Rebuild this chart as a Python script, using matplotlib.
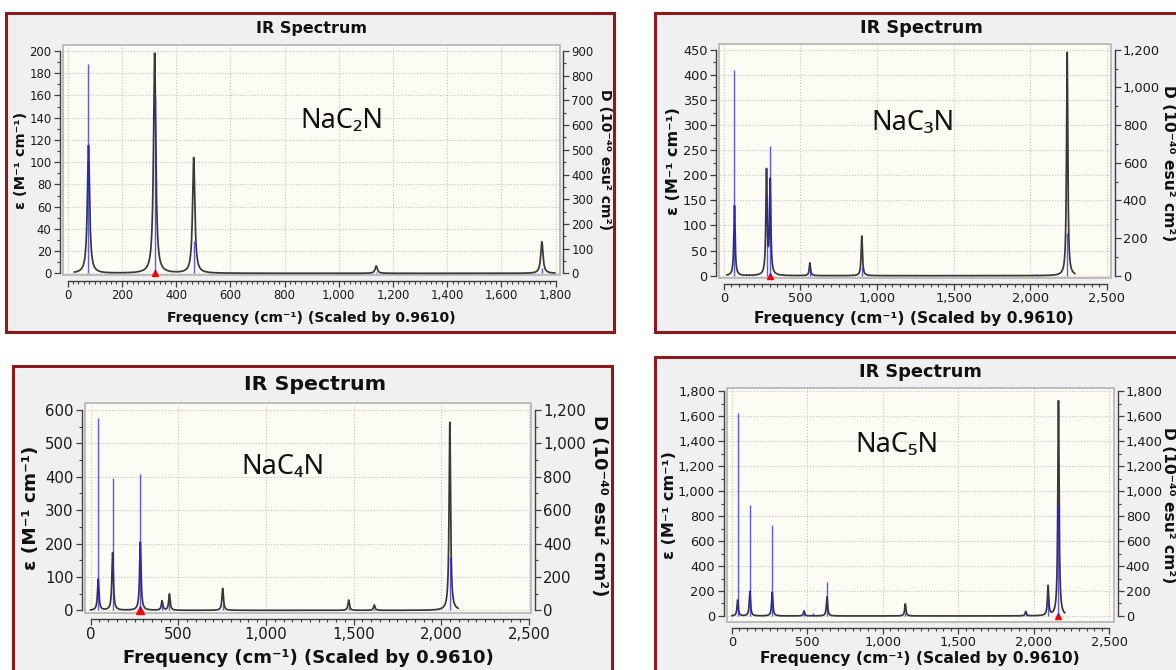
import numpy as np
import matplotlib.pyplot as plt
from matplotlib.patches import Rectangle
from matplotlib.ticker import MultipleLocator, FuncFormatter

W, H = 1176, 670

# modes: frequency (cm-1), epsilon peak height, dipole strength D
nac2n_freq = [77, 321, 465, 1138, 1749]
nac2n_eps = [115, 198, 104, 6.6, 28.4]
nac2n_dip = [846, 708, 130, 7, 20]
nac2n_span = [25, 1797]
nac2n_mark = 321

nac3n_freq = [70, 279, 303, 562, 901, 2042, 2241]
nac3n_eps = [139.6, 206, 186, 25.3, 79, 0.5, 445]
nac3n_dip = [1094, 420, 690, 30, 48, 5, 229]
nac3n_span = [21, 2291]
nac3n_mark = 305

nac4n_freq = [43, 125, 283, 407, 449, 753, 1472, 1618, 2049]
nac4n_eps = [93, 172, 204, 28, 48.6, 65.7, 30.7, 15.8, 563]
nac4n_dip = [1152, 790, 814, 32, 56, 36, 20, 10, 320]
nac4n_span = [0, 2097]
nac4n_mark = 283

nac5n_freq = [38, 119, 267, 478, 534, 630, 1149, 1947, 2095, 2164]
nac5n_eps = [127, 196, 191, 40, 3, 153, 97, 35, 237, 1724]
nac5n_dip = [1630, 889, 727, 30, 20, 275, 25, 20, 130, 880]
nac5n_span = [0, 2206]
nac5n_mark = 2164

HWHM = 5.0  # lorentzian half width

panels = [
    dict(note='NaC₂N', freq=nac2n_freq, eps=nac2n_eps, dip=nac2n_dip, span=nac2n_span, mark=nac2n_mark,
         frame=(6, 13, 614, 332), plot=(63, 45, 559.5, 275),
         xlim=(-17, 1814), xmax=1800, xstep=200,
         ylim=(-1.5, 205.4), ymax=200, ystep=20, ratio=4.5, rmax=900, rstep=100,
         title=(311, 28), xlab=(311, 318), ylab=(21, 160), rlab=(605, 160), notepos=(342, 121), s=1.0),
    dict(note='NaC₃N', freq=nac3n_freq, eps=nac3n_eps, dip=nac3n_dip, span=nac3n_span, mark=nac3n_mark,
         frame=(655, 13, 1185, 332), plot=(719, 44.3, 1111, 278),
         xlim=(-31, 2527), xmax=2500, xstep=500,
         ylim=(-4.6, 461), ymax=450, ystep=50, ratio=1200 / 450, rmax=1200, rstep=200,
         title=(921, 28), xlab=(914, 319), ylab=(673, 161), rlab=(1168, 163), notepos=(913, 123), s=1.11),
    dict(note='NaC₄N', freq=nac4n_freq, eps=nac4n_eps, dip=nac4n_dip, span=nac4n_span, mark=nac4n_mark,
         frame=(13, 366, 612, 680), plot=(84.8, 403.3, 531, 613),
         xlim=(-33.7, 2512), xmax=2500, xstep=500,
         ylim=(-8, 620), ymax=600, ystep=100, ratio=2.0, rmax=1200, rstep=200,
         title=(315, 385), xlab=(308, 658), ylab=(31, 508), rlab=(599, 506), notepos=(283, 467), s=1.28),
    dict(note='NaC₅N', freq=nac5n_freq, eps=nac5n_eps, dip=nac5n_dip, span=nac5n_span, mark=nac5n_mark,
         frame=(655, 357, 1185, 680), plot=(726.5, 387.7, 1114, 621.7),
         xlim=(-36, 2532), xmax=2500, xstep=500,
         ylim=(-46, 1829), ymax=1800, ystep=200, ratio=1.0, rmax=1800, rstep=200,
         title=(920, 372), xlab=(920, 659), ylab=(670, 505), rlab=(1169, 505), notepos=(897, 445), s=1.11),
]


def fx(x):
    return x / W


def fy(y):
    return 1 - y / H


fig = plt.figure(figsize=(W / 100, H / 100), dpi=100)
fig.patch.set_facecolor('white')
thousands = FuncFormatter(lambda v, p: f'{v:,.0f}')
px = 0.72  # points per pixel

for p in panels:
    s = p['s']
    l, t, r, b = p['frame']
    fig.patches.append(Rectangle((fx(l), fy(b)), (r - l) / W, (b - t) / H, transform=fig.transFigure,
                                 facecolor='#f0f0f0', edgecolor='#8b1a1a', lw=2.2, zorder=-10))

    l, t, r, b = p['plot']
    ax = fig.add_axes([fx(l), fy(b), (r - l) / W, (b - t) / H])
    ax.set_facecolor('#fcfcf4')
    ax.set_xlim(*p['xlim'])
    ax.set_ylim(*p['ylim'])

    # broadened spectrum
    f = np.array(p['freq'], float)
    e = np.array(p['eps'], float)
    x = np.union1d(np.arange(p['span'][0], p['span'][1], 0.5), f)
    y = np.zeros_like(x)
    for fi, ei in zip(f, e):
        y += ei / (1 + ((x - fi) / HWHM) ** 2)
    ax.plot(x, y, color='#383838', lw=1.25, zorder=3)

    ax2 = ax.twinx()
    ax2.set_ylim(p['ylim'][0] * p['ratio'], p['ylim'][1] * p['ratio'])
    ax2.vlines(p['freq'], 0, p['dip'], color='#2020ff', lw=1.0, alpha=0.75, zorder=4)

    # axes styling
    for sp in ['top', 'right']:
        ax.spines[sp].set_visible(False)
    for sp in ['top', 'left', 'bottom']:
        ax2.spines[sp].set_visible(False)
    ax.spines['left'].set_position(('outward', 3 * px))
    ax.spines['left'].set_bounds(0, p['ymax'])
    ax.spines['bottom'].set_position(('outward', 6 * px))
    ax.spines['bottom'].set_bounds(0, p['xmax'])
    ax2.spines['right'].set_position(('outward', 3.5 * px))
    ax2.spines['right'].set_bounds(0, p['rmax'])
    for sp in [ax.spines['left'], ax.spines['bottom'], ax2.spines['right']]:
        sp.set_color('#404040')
        sp.set_linewidth(1.0)
    ax.add_patch(Rectangle((0, 0), 1, 1, transform=ax.transAxes, fill=False,
                           edgecolor='#bcbcbc', lw=1.4, clip_on=False, zorder=1))

    ax.xaxis.set_major_locator(MultipleLocator(p['xstep']))
    ax.xaxis.set_minor_locator(MultipleLocator(p['xstep'] / 10))
    ax.yaxis.set_major_locator(MultipleLocator(p['ystep']))
    ax.yaxis.set_minor_locator(MultipleLocator(p['ystep'] / 2))
    ax2.yaxis.set_major_locator(MultipleLocator(p['rstep']))
    ax2.yaxis.set_minor_locator(MultipleLocator(p['rstep'] / 2))
    for a in (ax.xaxis, ax.yaxis, ax2.yaxis):
        a.set_major_formatter(thousands)
    for a in (ax, ax2):
        a.tick_params(which='major', length=4, width=0.9, color='#404040',
                      labelsize=8.4 * s, labelcolor='#1a1a1a', pad=2)
        a.tick_params(which='minor', length=2.2, width=0.8, color='#404040')
    ax.grid(True, which='major', linestyle=':', color='#c2c2c2', lw=0.8)

    # selected mode marker
    ax.plot([p['mark']], [0], marker='^', color='#ff0000', ms=4.2 * s,
            clip_on=False, zorder=6, linestyle='none')

    # texts
    fig.text(fx(p['title'][0]), fy(p['title'][1]), 'IR Spectrum', ha='center', va='center',
             fontsize=11.5 * s, fontweight='bold', color='#111111')
    fig.text(fx(p['xlab'][0]), fy(p['xlab'][1]), 'Frequency (cm⁻¹) (Scaled by 0.9610)',
             ha='center', va='center', fontsize=10.1 * s, fontweight='bold', color='#111111')
    fig.text(fx(p['ylab'][0]), fy(p['ylab'][1]), 'ε (M⁻¹ cm⁻¹)', ha='center', va='center',
             rotation=90, fontsize=10.4 * s, fontweight='bold', color='#111111')
    fig.text(fx(p['rlab'][0]), fy(p['rlab'][1]), 'D (10⁻⁴⁰ esu² cm²)', ha='center', va='center',
             rotation=-90, fontsize=10.1 * s, fontweight='bold', color='#111111')
    fig.text(fx(p['notepos'][0]), fy(p['notepos'][1]), p['note'], ha='center', va='center',
             fontsize=19.5, family=['Noto Sans', 'DejaVu Sans'], color='#111111')

plt.savefig('out.png', dpi=100, facecolor='white')
